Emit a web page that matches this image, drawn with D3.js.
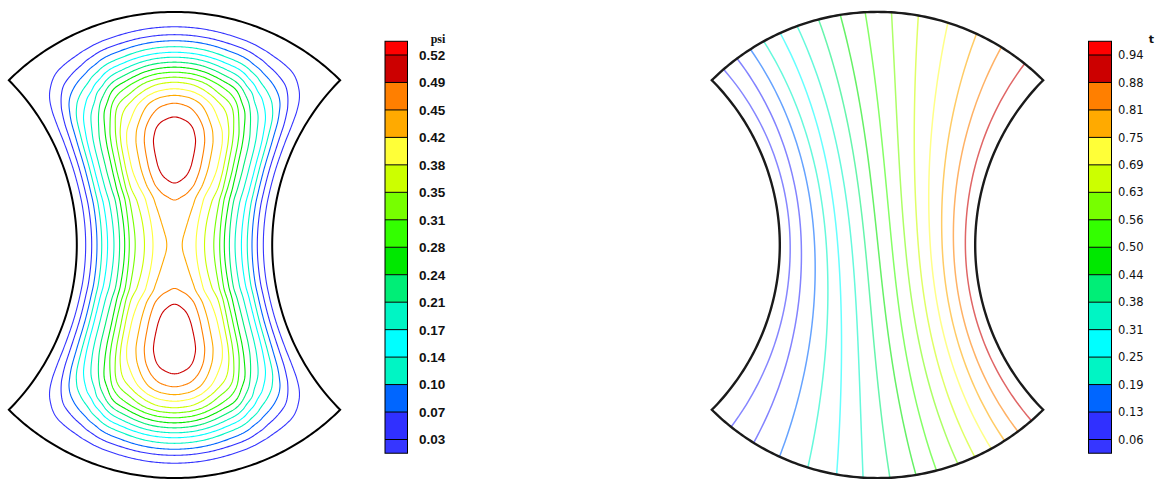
<!DOCTYPE html>
<html><head><meta charset="utf-8">
<script src="https://cdn.jsdelivr.net/npm/d3@7"></script>
<style>html,body{margin:0;padding:0;background:#fff;}svg{display:block;}</style>
</head><body>
<svg id="chart" width="1158" height="479"></svg>
<script>
// ================= DATA =================
// band colours of the contour legend, bottom -> top (16 bands)
const bandColors = ["#3636ff","#3030ff","#0066ff","#00f5c4","#00ffff","#00f5c4","#00ee77","#00e800",
                    "#33ff00","#77ff00","#ccff00","#ffff38","#ffaa00","#ff7f00","#cc0000","#ff0000"];

// stream function (left) levels and tick labels
const psiLevels = [0.0325,0.0675,0.1025,0.1375,0.1725,0.2075,0.2425,0.2775,0.3125,0.3475,0.3825,0.4175,0.4525,0.4875,0.5225];
const psiTickLabels = ["0.03","0.07","0.10","0.14","0.17","0.21","0.24","0.28","0.31","0.35","0.38","0.42","0.45","0.49","0.52"];
// psi read across the upper vortex: distance from side wall (fraction of domain width) -> psi
const psiAcrossW   = [0, 0.044, 0.073, 0.099, 0.121, 0.142, 0.168, 0.195, 0.222, 0.241, 0.264, 0.282, 0.306, 0.344, 0.378, 0.415, 0.455, 0.5];
const psiAcrossVal = [0, 0.0325,0.0675,0.1025,0.1375,0.1725,0.2075,0.2425,0.2775,0.3125,0.3475,0.3825,0.4175,0.4525,0.4875,0.5225,0.546,0.555];
// psi read down the vertical centre line: fraction of height (top -> bottom) -> psi
const psiAlongV   = [0, 0.0211,0.0328,0.0421,0.0514,0.0604,0.0685,0.0768,0.0854,0.0942,0.1031,0.1123,0.1245,0.1371,0.1527,0.1807,0.21,0.235,0.285,0.3349,0.379,
                     0.5, 0.617,0.658,0.715,0.765,0.79,0.821,0.8473,0.8629,0.8755,0.8877,0.8969,0.9058,0.9146,0.9232,0.9315,0.9396,0.9486,0.9579,0.9672,0.9789,1];
const psiAlongVal = [0, 0.0325,0.0675,0.1025,0.1375,0.1725,0.2075,0.2425,0.2775,0.3125,0.3475,0.3825,0.4175,0.4525,0.4875,0.5225,0.548,0.555,0.547,0.5225,0.4875,
                     0.458,0.4875,0.5225,0.547,0.555,0.548,0.5225,0.4875,0.4525,0.4175,0.3825,0.3475,0.3125,0.2775,0.2425,0.2075,0.1725,0.1375,0.1025,0.0675,0.0325,0];

// temperature (right) levels and tick labels
const tLevels = [0.0625,0.125,0.1875,0.25,0.3125,0.375,0.4375,0.5,0.5625,0.625,0.6875,0.75,0.8125,0.875,0.9375];
const tTickLabels = ["0.06","0.13","0.19","0.25","0.31","0.38","0.44","0.50","0.56","0.63","0.69","0.75","0.81","0.88","0.94"];
// isotherm positions (fraction across the domain) at top wall, mid height, bottom wall
const isoV    = [0, 0.5, 1];
const isoTopU = [0.053,0.107,0.155,0.199,0.249,0.297,0.354,0.409,0.470,0.534,0.600,0.676,0.756,0.834,0.919];
const isoMidU = [0.059,0.120,0.190,0.250,0.307,0.375,0.440,0.502,0.569,0.634,0.698,0.758,0.819,0.879,0.944];
const isoBotU = [0.084,0.166,0.247,0.326,0.400,0.465,0.530,0.594,0.646,0.703,0.751,0.801,0.845,0.893,0.947];

// ================= GEOMETRY (bipolar-coordinate cavity) =================
const A = 235, SIGMA0 = 0.885, TAU0 = 1.579;
const sigmaScale = d3.scaleLinear().domain([0, 1]).range([-SIGMA0, SIGMA0]);
const tauScale   = d3.scaleLinear().domain([0, 1]).range([TAU0, 2 * Math.PI - TAU0]);
function projector(cx, cy) {
  return function (u, v) {
    const s = sigmaScale(u), t = tauScale(v);
    const den = Math.cosh(s) - Math.cos(t);
    return [cx + A * Math.sinh(s) / den, cy - A * Math.sin(t) / den];
  };
}
const projL = projector(174.5, 245);
const projR = projector(877.5, 245);

function pchip(xs, ys, endSlopeZero) {
  const n = xs.length, h = [], d = [], m = new Array(n);
  for (let i = 0; i < n - 1; i++) { h[i] = xs[i + 1] - xs[i]; d[i] = (ys[i + 1] - ys[i]) / h[i]; }
  m[0] = d[0]; m[n - 1] = endSlopeZero ? 0 : d[n - 2];
  for (let i = 1; i < n - 1; i++) {
    if (d[i - 1] * d[i] <= 0) m[i] = 0;
    else { const w1 = 2 * h[i] + h[i - 1], w2 = h[i] + 2 * h[i - 1]; m[i] = (w1 + w2) / (w1 / d[i - 1] + w2 / d[i]); }
  }
  return function (x) {
    if (x <= xs[0]) return ys[0];
    if (x >= xs[n - 1]) return ys[n - 1];
    const i = Math.min(n - 2, d3.bisectRight(xs, x) - 1);
    const t = (x - xs[i]) / h[i], t2 = t * t, t3 = t2 * t;
    return (2 * t3 - 3 * t2 + 1) * ys[i] + (t3 - 2 * t2 + t) * h[i] * m[i] +
           (-2 * t3 + 3 * t2) * ys[i + 1] + (t3 - t2) * h[i] * m[i + 1];
  };
}

const svg = d3.select("#chart");
const line = d3.line();

function boundary(proj) {
  const pts = [], N = 120;
  for (let i = 0; i <= N; i++) pts.push(proj(i / N, 0));
  for (let i = 0; i <= N; i++) pts.push(proj(1, i / N));
  for (let i = 0; i <= N; i++) pts.push(proj(1 - i / N, 1));
  for (let i = 0; i <= N; i++) pts.push(proj(0, 1 - i / N));
  return line(pts) + "Z";
}

// ================= LEFT: psi contours =================
(function () {
  const F = pchip(psiAcrossW, psiAcrossVal, true);
  const G = pchip(psiAlongV, psiAlongVal, false);
  const peak = d3.max(psiAcrossVal);
  const nu = 241, nv = 361;
  const vals = new Float64Array(nu * nv);
  for (let j = 0; j < nv; j++) {
    const v = j / (nv - 1), g = G(v);
    for (let i = 0; i < nu; i++) {
      const u = i / (nu - 1);
      vals[j * nu + i] = F(Math.min(u, 1 - u)) * g / peak;
    }
  }
  const cs = d3.contours().size([nu, nv]).thresholds(psiLevels)(vals);
  const g = svg.append("g");
  cs.forEach((c, k) => {
    c.coordinates.forEach(poly => poly.forEach(ring => {
      const pts = ring.map(p => projL(Math.max(0, Math.min(1, (p[0] - 0.5) / (nu - 1))),
                                      Math.max(0, Math.min(1, (p[1] - 0.5) / (nv - 1)))));
      g.append("path").attr("d", line(pts) + "Z").attr("fill", "none")
        .attr("stroke", bandColors[k]).attr("stroke-width", 1.1);
    }));
  });
  svg.append("path").attr("d", boundary(projL)).attr("fill", "none")
    .attr("stroke", "#000").attr("stroke-width", 2);
})();

// ================= RIGHT: isotherms =================
(function () {
  const g = svg.append("g");
  tLevels.forEach((lv, k) => {
    const f = pchip(isoV, [isoTopU[k], isoMidU[k], isoBotU[k]], false);
    const pts = d3.range(0, 1.0001, 1 / 80).map(v => projR(f(v), v));
    g.append("path").attr("d", line(pts)).attr("fill", "none")
      .attr("stroke", d3.interpolateRgb(bandColors[k], "#ffffff")(0.4))
      .attr("stroke-width", 1.5);
  });
  svg.append("path").attr("d", boundary(projR)).attr("fill", "none")
    .attr("stroke", "#1a1a1a").attr("stroke-width", 2.4);
})();

// ================= COLOUR BARS =================
function colorbar(x0, w, levels, labels, title, labelX, font, fsize, weight, titleX, titleFont, titleSize) {
  const y = d3.scaleLinear().domain([levels[0], levels[levels.length - 1]]).range([439.5, 55]);
  const step = levels[1] - levels[0];
  const edges = [levels[0] - step / 2, ...levels, levels[levels.length - 1] + step / 2];
  const g = svg.append("g");
  for (let i = 0; i < edges.length - 1; i++) {
    g.append("rect").attr("x", x0).attr("width", w)
      .attr("y", y(edges[i + 1])).attr("height", y(edges[i]) - y(edges[i + 1]))
      .attr("fill", bandColors[i]);
  }
  levels.forEach(l => g.append("line").attr("x1", x0).attr("x2", x0 + w)
    .attr("y1", y(l)).attr("y2", y(l)).attr("stroke", "#000").attr("stroke-width", 1));
  g.append("rect").attr("x", x0).attr("width", w).attr("y", y(edges[edges.length - 1]))
    .attr("height", y(edges[0]) - y(edges[edges.length - 1])).attr("fill", "none")
    .attr("stroke", "#000").attr("stroke-width", 1);
  levels.forEach((l, i) => g.append("text").attr("x", labelX).attr("y", y(l))
    .attr("dy", "0.36em").attr("font-family", font).attr("font-size", fsize)
    .attr("font-weight", weight).attr("fill", "#111").text(labels[i]));
  g.append("text").attr("x", titleX).attr("y", 43).attr("text-anchor", "middle")
    .attr("font-family", titleFont).attr("font-size", titleSize).attr("font-weight", "bold")
    .attr("fill", "#111").text(title);
}
colorbar(385, 22.5, psiLevels, psiTickLabels, "psi", 419, "Liberation Sans, Arial, sans-serif", 13.5, "bold", 438, "Liberation Serif, serif", 12);
colorbar(1088.5, 23, tLevels, tTickLabels, "t", 1118, "DejaVu Sans, sans-serif", 11.5, "normal", 1151.5, "DejaVu Sans, sans-serif", 11);
</script>
</body></html>
